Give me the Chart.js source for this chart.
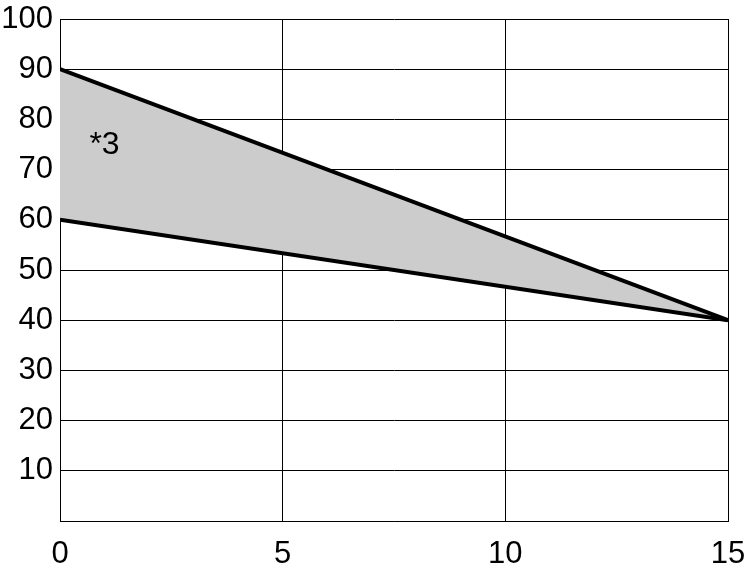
<!DOCTYPE html>
<html>
<head>
<meta charset="utf-8">
<script src="https://cdn.jsdelivr.net/npm/chart.js@4/dist/chart.umd.min.js"></script>
<style>
  html, body { margin: 0; padding: 0; background: #fff; }
  #wrap { width: 747px; height: 569px; position: relative; }
</style>
</head>
<body>
<div id="wrap"><canvas id="c" width="747" height="569"></canvas></div>
<script>
// Data
const xValues = [0, 15];
const upperValues = [90, 40];
const lowerValues = [60, 40];
const xTicks = [0, 5, 10, 15];
const yTicks = [10, 20, 30, 40, 50, 60, 70, 80, 90, 100];
const regionLabel = '*3';
const regionLabelX = 1.0;
const regionLabelY = 74.8;

const FONT = 'Liberation Sans, Arial, sans-serif';

const labelPlugin = {
  id: 'regionLabel',
  afterDatasetsDraw(chart) {
    const ctx = chart.ctx;
    const xs = chart.scales.x, ys = chart.scales.y;
    ctx.save();
    ctx.font = '32px ' + FONT;
    ctx.fillStyle = '#000';
    ctx.textAlign = 'center';
    ctx.textBaseline = 'middle';
    ctx.fillText(regionLabel, xs.getPixelForValue(regionLabelX), ys.getPixelForValue(regionLabelY));
    ctx.restore();
  }
};

new Chart(document.getElementById('c'), {
  type: 'line',
  data: {
    datasets: [
      {
        data: xValues.map((x, i) => ({x, y: upperValues[i]})),
        borderColor: '#000',
        borderWidth: 4,
        pointRadius: 0,
        fill: '+1',
        backgroundColor: '#cccccc',
        tension: 0
      },
      {
        data: xValues.map((x, i) => ({x, y: lowerValues[i]})),
        borderColor: '#000',
        borderWidth: 4,
        pointRadius: 0,
        fill: false,
        tension: 0
      }
    ]
  },
  options: {
    responsive: false,
    animation: false,
    layout: { padding: { left: 0, top: 19, right: 19, bottom: 0 } },
    plugins: {
      legend: { display: false },
      tooltip: { enabled: false },
      filler: { drawTime: 'beforeDatasetsDraw' }
    },
    scales: {
      x: {
        type: 'linear',
        min: 0, max: 15,
        afterBuildTicks(scale) { scale.ticks = xTicks.map(v => ({value: v})); },
        afterFit(scale) { scale.height = 48; scale.paddingLeft = 0; scale.paddingRight = 0; },
        grid: { color: '#000', lineWidth: 1, drawTicks: false },
        border: { color: '#000', width: 1 },
        ticks: { color: '#000', font: { family: FONT, size: 31 }, padding: 15, maxRotation: 0 }
      },
      y: {
        type: 'linear',
        min: 0, max: 100,
        afterBuildTicks(scale) { scale.ticks = [0].concat(yTicks).map(v => ({value: v})); },
        afterFit(scale) { scale.width = 60; scale.paddingTop = 0; scale.paddingBottom = 0; },
        grid: { color: '#000', lineWidth: 1, drawTicks: false },
        border: { color: '#000', width: 1 },
        ticks: {
          color: '#000', font: { family: FONT, size: 31 }, padding: 7,
          callback: (v) => (v === 0 ? '' : String(v))
        }
      }
    }
  },
  plugins: [labelPlugin]
});
</script>
</body>
</html>
